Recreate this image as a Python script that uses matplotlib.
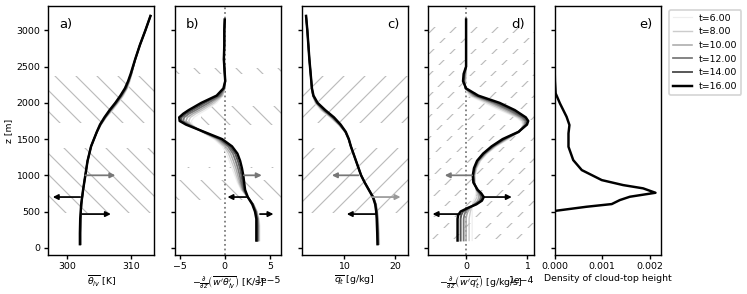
import numpy as np
import matplotlib
matplotlib.use('Agg')
import matplotlib.pyplot as plt

# Times (legend) and styles
times = [6, 8, 10, 12, 14, 16]
colors = ['#eeeeee', '#cccccc', '#aaaaaa', '#777777', '#555555', '#000000']
widths = [0.7, 0.8, 0.9, 1.0, 1.1, 1.4]

# a) theta_lv profiles [K]
z_a = [50, 200, 400, 600, 800, 1000, 1200, 1400, 1500, 1600, 1700, 1800, 1900,
       2000, 2100, 2200, 2300, 2400, 2600, 2800, 3000, 3200]
theta = {
    6:  [302.1, 302.1, 302.12, 302.21, 302.45, 302.8, 303.15, 303.7, 304.15, 304.65, 305.3, 306.1, 307.1,
         308.0, 308.8, 309.4, 309.8, 310.1, 310.65, 311.35, 312.2, 313.0],
    8:  [302.08, 302.08, 302.1, 302.2, 302.45, 302.8, 303.15, 303.7, 304.15, 304.64, 305.27, 306.05, 307.0,
         307.9, 308.7, 309.33, 309.74, 310.07, 310.64, 311.35, 312.2, 313.0],
    10: [302.06, 302.06, 302.08, 302.19, 302.45, 302.8, 303.15, 303.7, 304.15, 304.63, 305.23, 306.0, 306.9,
         307.8, 308.6, 309.27, 309.68, 310.03, 310.63, 311.35, 312.2, 313.0],
    12: [302.03, 302.03, 302.07, 302.18, 302.45, 302.8, 303.15, 303.7, 304.15, 304.62, 305.2, 305.93, 306.8,
         307.7, 308.5, 309.2, 309.62, 310.0, 310.62, 311.35, 312.2, 313.0],
    14: [302.0, 302.0, 302.05, 302.17, 302.45, 302.8, 303.15, 303.7, 304.15, 304.6, 305.15, 305.85, 306.7,
         307.6, 308.4, 309.1, 309.55, 309.95, 310.6, 311.35, 312.2, 313.0],
    16: [301.95, 301.95, 302.0, 302.15, 302.45, 302.8, 303.15, 303.7, 304.15, 304.6, 305.1, 305.8, 306.6,
         307.5, 308.3, 309.0, 309.5, 309.9, 310.6, 311.35, 312.2, 313.0],
}

# b) theta flux divergence [1e-5 K/s]
z_b = [100, 300, 400, 500, 600, 700, 800, 900, 1000, 1100, 1200, 1300, 1400, 1500, 1600,
       1700, 1750, 1800, 1850, 1900, 2000, 2100, 2200, 2300, 2400, 2600, 2800, 3000, 3150]
dtheta = {
    6:  [3.9, 3.9, 3.8, 3.6, 3.2, 2.5, 1.8, 1.4, 1.1, 0.8, 0.5, 0.2, -0.3, -1.2, -2.6,
         -3.6, -3.7, -3.4, -2.8, -2.1, -0.9, -0.2, 0.0, 0.0, 0.0, -0.1, -0.05, -0.05, 0.0],
    8:  [3.83, 3.83, 3.75, 3.56, 3.18, 2.52, 1.88, 1.53, 1.27, 1.02, 0.72, 0.42, -0.1, -1.02, -2.52,
         -3.72, -4.0, -3.8, -3.2, -2.45, -1.15, -0.25, 0.0, 0.01, 0.0, -0.1, -0.05, -0.05, 0.0],
    10: [3.76, 3.76, 3.7, 3.52, 3.16, 2.53, 1.97, 1.67, 1.45, 1.23, 0.95, 0.65, 0.1, -0.85, -2.45,
         -3.85, -4.3, -4.15, -3.55, -2.8, -1.45, -0.35, 0.0, 0.02, 0.0, -0.1, -0.05, -0.05, 0.0],
    12: [3.68, 3.68, 3.65, 3.48, 3.13, 2.54, 2.05, 1.82, 1.65, 1.45, 1.2, 0.9, 0.35, -0.65, -2.4,
         -4.0, -4.6, -4.5, -3.95, -3.2, -1.8, -0.5, -0.05, 0.03, 0.0, -0.1, -0.05, -0.05, 0.0],
    14: [3.6, 3.6, 3.58, 3.42, 3.1, 2.55, 2.15, 1.98, 1.85, 1.68, 1.45, 1.15, 0.55, -0.5, -2.35,
         -4.15, -4.8, -4.8, -4.3, -3.6, -2.2, -0.7, -0.1, 0.05, 0.0, -0.1, -0.05, -0.05, 0.0],
    16: [3.5, 3.5, 3.5, 3.35, 3.05, 2.55, 2.25, 2.15, 2.05, 1.9, 1.7, 1.4, 0.8, -0.3, -2.3,
         -4.3, -5.0, -5.05, -4.6, -4.0, -2.6, -0.9, -0.15, 0.05, 0.0, -0.1, -0.05, -0.05, 0.0],
}

# c) total water [g/kg]
z_c = [50, 200, 400, 500, 600, 700, 800, 900, 1000, 1100, 1200, 1300, 1400, 1500, 1600,
       1700, 1800, 1900, 2000, 2100, 2200, 2400, 2600, 2800, 3000, 3200]
qt = {
    6:  [16.9, 16.85, 16.7, 16.55, 16.3, 15.8, 14.9, 14.05, 13.3, 12.8, 12.3, 11.8, 11.3, 10.8, 10.1,
         8.8, 7.2, 5.4, 4.3, 3.8, 3.65, 3.45, 3.2, 3.0, 2.8, 2.55],
    8:  [16.82, 16.77, 16.63, 16.49, 16.25, 15.76, 14.88, 14.04, 13.3, 12.8, 12.3, 11.8, 11.3, 10.82, 10.14,
         8.9, 7.36, 5.58, 4.4, 3.84, 3.66, 3.45, 3.2, 3.0, 2.8, 2.55],
    10: [16.74, 16.69, 16.56, 16.43, 16.2, 15.72, 14.86, 14.03, 13.3, 12.8, 12.3, 11.8, 11.3, 10.84, 10.18,
         9.0, 7.52, 5.76, 4.5, 3.88, 3.67, 3.45, 3.2, 3.0, 2.8, 2.55],
    12: [16.66, 16.61, 16.49, 16.37, 16.15, 15.68, 14.84, 14.02, 13.3, 12.8, 12.3, 11.8, 11.3, 10.86, 10.22,
         9.1, 7.68, 5.94, 4.6, 3.92, 3.68, 3.45, 3.2, 3.0, 2.8, 2.55],
    14: [16.58, 16.53, 16.42, 16.31, 16.1, 15.64, 14.82, 14.01, 13.3, 12.8, 12.3, 11.8, 11.3, 10.88, 10.26,
         9.2, 7.84, 6.12, 4.7, 3.96, 3.69, 3.45, 3.2, 3.0, 2.8, 2.55],
    16: [16.5, 16.45, 16.35, 16.25, 16.05, 15.6, 14.8, 14.0, 13.3, 12.8, 12.3, 11.8, 11.3, 10.9, 10.3,
         9.3, 8.0, 6.3, 4.8, 4.0, 3.7, 3.45, 3.2, 3.0, 2.8, 2.55],
}

# d) total water flux divergence [1e-4 g/kg/s]
z_d = [100, 300, 400, 450, 500, 550, 600, 650, 700, 750, 800, 900, 1000, 1100, 1200, 1300,
       1400, 1500, 1600, 1700, 1750, 1800, 1900, 2000, 2100, 2200, 2300, 2400, 2500, 2700, 3000, 3150]
dqt = {
    6:  [0.1, 0.1, 0.1, 0.1, 0.1, 0.1, 0.1, 0.12, 0.15, 0.16, 0.16, 0.15, 0.15, 0.18, 0.24, 0.35,
         0.5, 0.7, 0.88, 0.93, 0.9, 0.82, 0.55, 0.3, 0.05, -0.02, 0.0, 0.0, 0.0, 0.0, 0.0, 0.0],
    8:  [0.05, 0.05, 0.05, 0.06, 0.07, 0.09, 0.11, 0.15, 0.18, 0.18, 0.17, 0.145, 0.142, 0.17, 0.23, 0.336,
         0.484, 0.68, 0.876, 0.944, 0.926, 0.852, 0.6, 0.35, 0.08, -0.02, -0.01, 0.0, 0.0, 0.0, 0.0, 0.0],
    10: [0.0, 0.0, 0.0, 0.01, 0.03, 0.07, 0.13, 0.19, 0.21, 0.2, 0.17, 0.14, 0.134, 0.16, 0.215, 0.322,
         0.468, 0.66, 0.872, 0.958, 0.952, 0.884, 0.65, 0.4, 0.11, -0.015, -0.02, -0.01, 0.0, 0.0, 0.0, 0.0],
    12: [-0.04, -0.04, -0.04, -0.03, -0.01, 0.05, 0.14, 0.22, 0.24, 0.22, 0.18, 0.13, 0.126, 0.15, 0.2, 0.308,
         0.452, 0.64, 0.868, 0.972, 0.976, 0.916, 0.7, 0.45, 0.14, -0.01, -0.03, -0.02, 0.0, 0.0, 0.0, 0.0],
    14: [-0.09, -0.09, -0.09, -0.08, -0.05, 0.04, 0.16, 0.24, 0.26, 0.23, 0.18, 0.125, 0.118, 0.14, 0.19, 0.294,
         0.436, 0.62, 0.864, 0.986, 1.0, 0.948, 0.75, 0.5, 0.17, -0.005, -0.04, -0.03, 0.0, 0.0, 0.0, 0.0],
    16: [-0.14, -0.14, -0.14, -0.13, -0.09, 0.03, 0.17, 0.26, 0.29, 0.25, 0.19, 0.12, 0.11, 0.13, 0.18, 0.28,
         0.42, 0.6, 0.86, 1.0, 1.02, 0.98, 0.8, 0.55, 0.2, 0.0, -0.05, -0.04, 0.0, 0.0, 0.0, 0.0],
}

# e) density of cloud-top height
z_e = [500, 511, 566, 603, 658, 704, 759, 820, 865, 934, 1072, 1210, 1394, 1579, 1694, 1808,
       1993, 2131, 2300, 2443]
dens = [0, 0.00003, 0.00067, 0.0012, 0.00137, 0.00158, 0.00212, 0.00186, 0.00144, 0.00099,
        0.00057, 0.00039, 0.00029, 0.00029, 0.00031, 0.00025, 0.00011, 0.00002, 0.000005, 0.0]

# arrows: (z, start, end, colour) per panel
arrows_a = [(1000, 302.8, 307.5, '#777777'), (700, 302.0, 297.7, 'k'), (465, 302.3, 306.8, 'k')]
arrows_b = [(1000, 2.1e-5, 4.1e-5, '#777777'), (700, 2.4e-5, 0.3e-5, 'k'), (465, 3.9e-5, 5.4e-5, 'k')]
arrows_c = [(1000, 12.8, 7.6, '#777777'), (700, 15.4, 21.0, '#999999'), (465, 16.1, 10.5, 'k')]
arrows_d = [(1000, 0.1e-4, -0.35e-4, '#777777'), (700, 0.29e-4, 0.75e-4, 'k'), (465, -0.1e-4, -0.55e-4, 'k')]

# hatched height ranges
hatch_ac = [(480, 1380), (1720, 2370)]
hatch_b = [(2400, 2480, 0.0), (1700, 1950, 0.25), (1095, 1115, 0.0), (660, 930, 0.0)]
hatch_d = [(z0, z0 + 75) for z0 in np.arange(120, 3050, 150)]

DPI = 126
fs = 5.4
plt.rcParams['font.size'] = fs
plt.rcParams['hatch.color'] = '#bbbbbb'
plt.rcParams['hatch.linewidth'] = 0.65
plt.rcParams['xtick.major.size'] = 2.2
plt.rcParams['ytick.major.size'] = 2.2
plt.rcParams['xtick.major.pad'] = 1.8
plt.rcParams['ytick.major.pad'] = 2.5
plt.rcParams['axes.labelpad'] = 1.5

fig = plt.figure(figsize=(747 / DPI, 294 / DPI), dpi=DPI)
lefts = [48.3, 174.7, 301.7, 427.7, 554.7]
axes = []
for i, l in enumerate(lefts):
    ax = fig.add_axes([l / 747, 1 - 255 / 294, 106 / 747, 249 / 294],
                      sharey=axes[0] if axes else None)
    axes.append(ax)
ax_a, ax_b, ax_c, ax_d, ax_e = axes


def draw_profiles(ax, z, data, scale=1.0):
    for t, c, w in zip(times, colors, widths):
        ax.plot(np.array(data[t]) * scale, z, color=c, lw=w, label='t=%.2f' % t)


def draw_arrows(ax, arrows):
    for z, x0, x1, c in arrows:
        ax.annotate('', xy=(x1, z), xytext=(x0, z),
                    arrowprops=dict(arrowstyle='-|>', color=c, lw=1.0,
                                    mutation_scale=6, shrinkA=0, shrinkB=0))


# a)
for z0, z1 in hatch_ac:
    ax_a.axhspan(z0, z1, facecolor='none', edgecolor='#bbbbbb', hatch='\\\\', lw=0)
draw_profiles(ax_a, z_a, theta)
draw_arrows(ax_a, arrows_a)
ax_a.set_xlim(297.0, 313.6)
ax_a.set_xticks([300, 310])
ax_a.set_xlabel(r'$\overline{\theta_{lv}}$ [K]')
ax_a.set_ylabel('z [m]')
ax_a.text(0.10, 0.95, 'a)', transform=ax_a.transAxes, fontsize=7.5, va='top', ha='left')

# b)
for z0, z1, xm in hatch_b:
    ax_b.axhspan(z0, z1, xmin=xm, facecolor='none', edgecolor='#bbbbbb', hatch='\\\\', lw=0)
ax_b.axvline(0, color='#777777', ls=':', lw=1.0)
draw_profiles(ax_b, z_b, dtheta, 1e-5)
draw_arrows(ax_b, arrows_b)
ax_b.set_xlim(-5.55e-5, 6.2e-5)
ax_b.set_xticks([-5e-5, 0, 5e-5])
ax_b.ticklabel_format(axis='x', style='sci', scilimits=(0, 0))
ax_b.set_xlabel(r"$-\frac{\partial}{\partial z}\left(\overline{w'\theta_{lv}'}\right)$ [K/s]")
ax_b.text(0.10, 0.95, 'b)', transform=ax_b.transAxes, fontsize=7.5, va='top', ha='left')

# c)
for z0, z1 in hatch_ac:
    ax_c.axhspan(z0, z1, facecolor='none', edgecolor='#bbbbbb', hatch='//', lw=0)
draw_profiles(ax_c, z_c, qt)
draw_arrows(ax_c, arrows_c)
ax_c.set_xlim(1.7, 22.4)
ax_c.set_xticks([10, 20])
ax_c.set_xlabel(r'$\overline{q_t}$ [g/kg]')
ax_c.text(0.92, 0.95, 'c)', transform=ax_c.transAxes, fontsize=7.5, va='top', ha='right')

# d)
for z0, z1 in hatch_d:
    ax_d.axhspan(z0, z1, facecolor='none', edgecolor='#bbbbbb', hatch='//', lw=0)
ax_d.axvline(0, color='#777777', ls=':', lw=1.0)
draw_profiles(ax_d, z_d, dqt, 1e-4)
draw_arrows(ax_d, arrows_d)
ax_d.set_xlim(-0.63e-4, 1.11e-4)
ax_d.set_xticks([0, 1e-4])
ax_d.ticklabel_format(axis='x', style='sci', scilimits=(0, 0))
ax_d.set_xlabel(r"$-\frac{\partial}{\partial z}\left(\overline{w'q_t'}\right)$ [g/kg/s]")
ax_d.text(0.92, 0.95, 'd)', transform=ax_d.transAxes, fontsize=7.5, va='top', ha='right')

# e)
ax_e.plot(dens, z_e, color='k', lw=1.4)
ax_e.set_xlim(0, 0.00223)
ax_e.set_xticks([0, 0.001, 0.002])
ax_e.set_xticklabels(['0.000', '0.001', '0.002'])
ax_e.set_xlabel('Density of cloud-top height')
ax_e.text(0.92, 0.95, 'e)', transform=ax_e.transAxes, fontsize=7.5, va='top', ha='right')

ax_a.set_ylim(-100, 3337)
ax_a.set_yticks([0, 500, 1000, 1500, 2000, 2500, 3000])
for ax in axes[1:]:
    ax.tick_params(labelleft=False)

handles, labels = ax_a.get_legend_handles_labels()
ax_e.legend(handles, labels, loc='upper left', bbox_to_anchor=(1.078, 0.985),
            borderaxespad=0, fontsize=fs)

fig.savefig('out.png', dpi=DPI)
